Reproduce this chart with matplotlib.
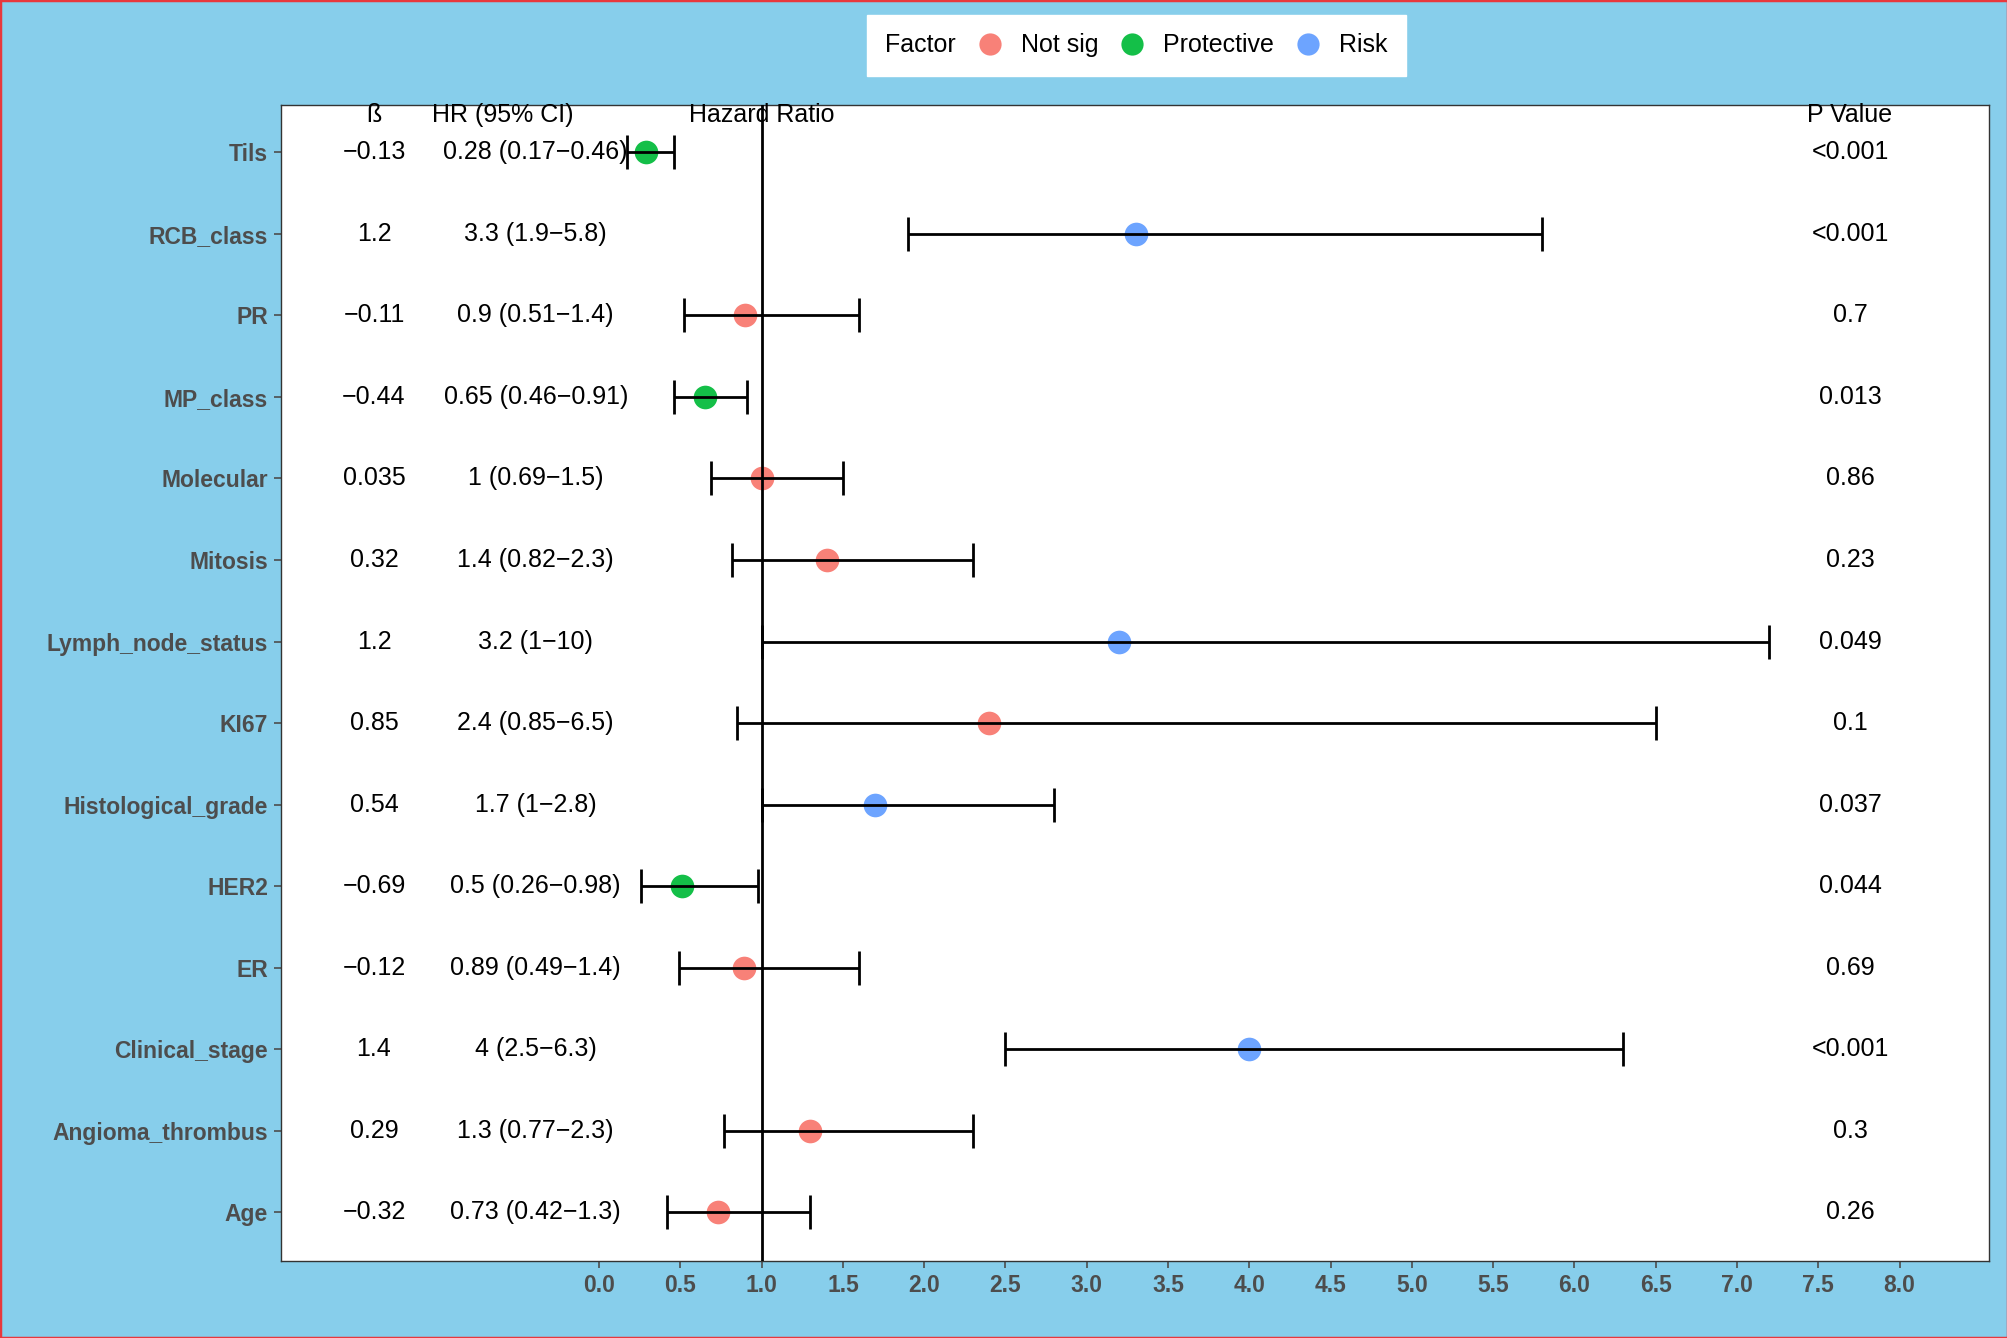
import numpy as np
import matplotlib.pyplot as plt
from matplotlib.lines import Line2D
from matplotlib.patches import Rectangle
from matplotlib.offsetbox import HPacker

plt.rcParams['font.family'] = ['Liberation Sans', 'DejaVu Sans']

# Datos del forest plot (de arriba hacia abajo)
factores = ['Tils', 'RCB_class', 'PR', 'MP_class', 'Molecular', 'Mitosis',
            'Lymph_node_status', 'KI67', 'Histological_grade', 'HER2', 'ER',
            'Clinical_stage', 'Angioma_thrombus', 'Age']
beta_txt = ['\u22120.13', '1.2', '\u22120.11', '\u22120.44', '0.035', '0.32', '1.2',
            '0.85', '0.54', '\u22120.69', '\u22120.12', '1.4', '0.29', '\u22120.32']
hr_txt = ['0.28 (0.17\u22120.46)', '3.3 (1.9\u22125.8)', '0.9 (0.51\u22121.4)',
          '0.65 (0.46\u22120.91)', '1 (0.69\u22121.5)', '1.4 (0.82\u22122.3)',
          '3.2 (1\u221210)', '2.4 (0.85\u22126.5)', '1.7 (1\u22122.8)',
          '0.5 (0.26\u22120.98)', '0.89 (0.49\u22121.4)', '4 (2.5\u22126.3)',
          '1.3 (0.77\u22122.3)', '0.73 (0.42\u22121.3)']
p_txt = ['<0.001', '<0.001', '0.7', '0.013', '0.86', '0.23', '0.049', '0.1',
         '0.037', '0.044', '0.69', '<0.001', '0.3', '0.26']
hr = [0.29, 3.3, 0.9, 0.65, 1.0, 1.4, 3.2, 2.4, 1.7, 0.51, 0.89, 4.0, 1.3, 0.73]
ic_inf = [0.17, 1.9, 0.52, 0.46, 0.69, 0.82, 1.0, 0.85, 1.0, 0.26, 0.49, 2.5, 0.77, 0.42]
ic_sup = [0.46, 5.8, 1.6, 0.91, 1.5, 2.3, 7.2, 6.5, 2.8, 0.98, 1.6, 6.3, 2.3, 1.3]
grupo = ['Protective', 'Risk', 'Not sig', 'Protective', 'Not sig', 'Not sig', 'Risk',
         'Not sig', 'Risk', 'Protective', 'Not sig', 'Risk', 'Not sig', 'Not sig']

colores = {'Not sig': '#F8766D', 'Protective': '#00BA38', 'Risk': '#619CFF'}

fondo = '#87CEEB'
gris = '#4D4D4D'

fig = plt.figure(figsize=(20.08, 13.38), dpi=100, facecolor=fondo)
ax = fig.add_axes([0.1397, 0.0574, 0.8508, 0.8641])
ax.set_facecolor('white')

n = len(factores)
y = np.arange(n, 0, -1)

# Puntos
for yi, h, g in zip(y, hr, grupo):
    ax.scatter(h, yi, s=290, color=colores[g], alpha=0.92, zorder=2, linewidths=0)

# Intervalos de confianza
ax.errorbar(hr, y, xerr=[np.array(hr) - np.array(ic_inf), np.array(ic_sup) - np.array(hr)],
            fmt='none', ecolor='black', elinewidth=2, capsize=12.5, capthick=2, zorder=3)

# Línea de referencia
ax.axvline(1, color='black', lw=2, zorder=4)

# Columnas de texto
x_beta, x_hr, x_p = -1.385, -0.39, 7.695
y_cab = n + 0.455
for yi, b, t, p in zip(y, beta_txt, hr_txt, p_txt):
    ax.text(x_beta, yi, b, ha='center', va='center', fontsize=18)
    ax.text(x_hr, yi, t, ha='center', va='center', fontsize=18)
    ax.text(x_p, yi, p, ha='center', va='center', fontsize=18)
ax.text(x_beta, y_cab, '\u00df', ha='center', va='center', fontsize=18)
ax.text(-0.59, y_cab, 'HR (95% CI)', ha='center', va='center', fontsize=18)
ax.text(1.0, y_cab, 'Hazard Ratio', ha='center', va='center', fontsize=18)
ax.text(x_p, y_cab, 'P Value', ha='center', va='center', fontsize=18)

ax.set_xlim(-1.96, 8.55)
ax.set_ylim(0.40, n + 0.58)
ax.set_xticks(np.arange(0, 8.01, 0.5))
ax.set_xticklabels([f'{v:.1f}' for v in np.arange(0, 8.01, 0.5)])
ax.set_yticks(y)
ax.set_yticklabels(factores)
ax.tick_params(axis='both', colors=gris, labelsize=16.5, length=5, width=1.2, pad=4)
for lab in ax.get_xticklabels() + ax.get_yticklabels():
    lab.set_fontweight('bold')
    lab.set_color(gris)
for s in ax.spines.values():
    s.set_color('#333333')
    s.set_linewidth(1.0)

# Leyenda horizontal con el título a la izquierda
manejadores = [Line2D([], [], marker='o', linestyle='none', markersize=16,
                      markerfacecolor=colores[k], markeredgewidth=0, alpha=0.92)
               for k in ['Not sig', 'Protective', 'Risk']]
leg = fig.legend(manejadores, ['Not sig', 'Protective', 'Risk'], title='Factor',
                 ncols=3, loc='center', bbox_to_anchor=(0.566, 0.966),
                 fontsize=18, title_fontsize=18, frameon=True, fancybox=False,
                 edgecolor='white', framealpha=1, handletextpad=0.75,
                 columnspacing=0.85, handlelength=1.0, handleheight=0.7,
                 borderpad=0.75)
viejo = leg._legend_box
nuevo = HPacker(pad=viejo.pad, sep=15, align='center', children=viejo.get_children())
nuevo.set_figure(fig)
nuevo.set_offset(leg._findoffset)
leg._legend_box = nuevo

# Borde rojo de la figura
fig.patches.append(Rectangle((0, 0), 1, 1, transform=fig.transFigure, fill=False,
                             edgecolor='#E8383D', linewidth=2.5, zorder=10))

fig.savefig('out.png', dpi=100, facecolor=fondo)
